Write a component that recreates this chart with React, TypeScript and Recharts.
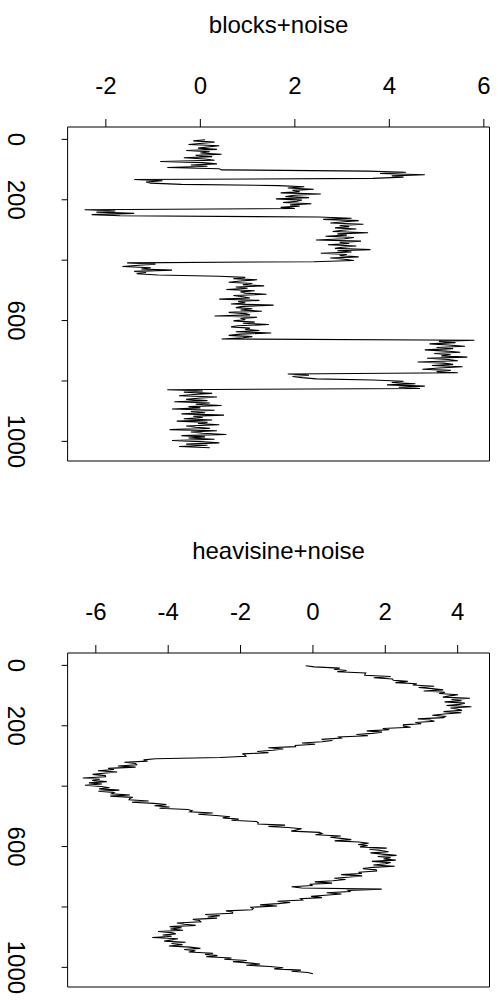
import { LineChart, Line, XAxis, YAxis, ReferenceArea } from 'recharts';

// index ticks shared by both panels (series index 1..1024, every 4th point kept)
const indexTicks = [0, 200, 400, 600, 800, 1000];
// R drops the labels that would overlap: only these are written
const indexLabels = [0, 200, 600, 1000];
const blocksTicks = [-2, 0, 2, 4, 6];
const heavisineTicks = [-6, -4, -2, 0, 2, 4];

// blocks+noise (one value per 4 samples)
const blocksNoise = [
  0.1, -0.15, 0.3, 0.05, -0.25, 0.4, 0.15, -0.05, 0.35, -0.3, 0.2, 0.0, 0.45, -0.1, 0.25, -0.35, 0.1, 0.3, -0.85, 0.05,
  0.35, -0.2, 0.15, -0.7, 0.4, 0.45,
  3.55, 4.35, 3.8, 4.75, 4.05, 4.3, 3.65,
  -1.4, -0.8, -1.15, -1.05, -0.4,
  1.65, 2.2, 1.85, 2.4, 1.95, 2.1, 1.7, 2.55, 2.0, 1.8, 2.3, 1.6, 2.15, 2.05, 1.75, 2.35, 1.9, 2.1, 1.7, 2.0,
  -2.45, -1.8, -2.2, -1.4, -2.3, -1.7,
  2.5, 3.2, 2.6, 3.35, 3.05, 2.75, 3.45, 2.95, 3.15, 2.85, 3.3, 3.0, 2.8, 3.55, 2.9, 3.1, 2.65, 3.25, 3.05, 2.45,
  3.4, 2.95, 3.15, 2.7, 3.3, 3.0, 2.85, 3.6, 2.9, 3.2, 2.55, 3.1, 2.95, 3.35, 2.75, 3.05, 3.25, 2.4,
  -1.55, -0.95, -1.3, -1.65, -1.05, -1.25, -0.6, -1.4, -1.15, -1.35, -0.9,
  0.4, 0.95, 0.7, 1.2, 0.85, 0.6, 1.1, 0.9, 1.35, 0.75, 1.0, 0.55, 1.15, 0.85, 0.95, 1.4, 0.7, 0.9, 1.05, 0.4,
  1.25, 0.8, 0.95, 0.65, 1.55, 0.9, 0.75, 1.1, 0.85, 1.3, 0.6, 0.95, 1.05, 0.3, 1.2, 0.85, 0.95, 0.7, 1.15, 0.9,
  1.45, 0.8, 0.65, 1.05, 0.95, 1.25, 0.75, 1.5, 0.85, 0.6, 1.1, 0.9, 0.45,
  5.8, 5.05, 5.4, 4.85, 5.25, 5.6, 5.0, 5.35, 4.75, 5.2, 5.5, 4.95, 5.3, 5.1, 5.65, 4.8, 5.25, 5.45, 4.6, 5.15,
  5.35, 4.9, 5.55, 5.05, 4.7, 5.3, 5.0, 5.45,
  1.85, 2.3, 1.95, 2.15, 2.45,
  3.65, 4.3, 4.05, 4.55, 3.95, 4.75, 4.2, 4.65,
  -0.7, 0.05, -0.35, 0.25, -0.15, -0.45, 0.35, -0.05, -0.3, 0.15, -0.55, 0.2, -0.1, 0.45, -0.25, 0.0, -0.6, 0.3, -0.2, 0.1,
  -0.4, 0.5, -0.15, 0.05, -0.35, 0.25, -0.5, 0.15, -0.05, 0.4, -0.3, -0.1, 0.2, -0.65, 0.35, -0.2, 0.05, 0.55, -0.4, 0.1,
  -0.25, 0.3, -0.6, 0.0, 0.4, -0.3, 0.15, -0.45, 0.2,
];

// heavisine+noise (one value per 4 samples)
const heavisineNoise = [
  -0.2, 0.04, 0.74, 0.58, 0.93, 0.67, 1.46, 1.44, 1.43, 2.15, 1.68, 2.2, 2.22, 2.62, 2.28, 2.87,
  2.76, 3.35, 2.92, 3.29, 3.6, 3.06, 3.65, 3.49, 4.01, 3.78, 3.59, 4.34, 3.83, 4.11, 3.64, 4.2,
  4.05, 3.69, 4.38, 3.8, 4.01, 4.12, 3.61, 4.1, 3.63, 3.3, 3.66, 3.61, 2.9, 3.23, 3.36, 2.83,
  2.99, 2.5, 2.5, 2.7, 1.93, 2.11, 1.49, 1.91, 1.64, 1.2, 1.52, 0.72, 0.78, 0.24, 0.54, 0.25,
  -0.3, 0.06, -0.49, -0.48, -1.23, -0.82, -1.11, -1.54, -1.23, -1.95, -1.88, -1.85, -2.57, -4.35, -4.68, -4.57,
  -5.21, -4.9, -4.87, -5.39, -4.9, -5.66, -5.5, -5.94, -5.41, -5.78, -6.09, -5.74, -5.73, -6.36, -5.89, -6.1,
  -5.7, -6.19, -5.83, -6.3, -5.86, -5.62, -5.91, -5.35, -5.93, -5.5, -5.56, -5.06, -5.6, -4.98, -5.06, -5.08,
  -4.54, -5.0, -4.4, -4.05, -4.38, -3.96, -4.24, -3.46, -3.34, -3.4, -2.77, -3.17, -2.68, -2.29, -2.49, -2.05,
  -2.25, -1.56, -1.51, -1.52, -0.77, -1.23, -0.69, -0.31, -0.47, -0.6, 0.18, 0.25, 0.07, 0.77, 0.48, 0.77,
  1.06, 0.6, 1.27, 1.54, 1.25, 1.51, 1.3, 2.04, 1.56, 1.88, 2.09, 1.59, 1.93, 2.31, 1.79, 2.15,
  1.95, 2.29, 1.63, 2.15, 2.01, 1.67, 2.26, 1.65, 1.38, 1.75, 1.76, 1.26, 1.35, 0.78, 1.36, 1.03,
  0.59, 0.9, 0.55, 0.05, 0.53, -0.09, -0.01, -0.59, -0.31, 1.9, 0.97, 1.02, 0.38, 0.79, 0.34, -0.05,
  0.25, -0.34, -0.29, -0.98, -0.63, -0.97, -1.46, -0.99, -1.73, -1.65, -1.68, -2.4, -2.22, -2.22, -2.98, -2.57,
  -2.91, -2.65, -3.32, -3.14, -3.1, -3.76, -3.55, -3.24, -3.96, -3.63, -3.94, -3.59, -4.28, -3.91, -3.79, -4.15,
  -3.9, -4.44, -3.73, -3.9, -4.11, -3.52, -3.91, -3.6, -3.98, -3.4, -3.11, -3.56, -3.25, -3.43, -2.76, -2.98,
  -2.64, -2.95, -2.25, -2.45, -1.83, -2.21, -1.79, -1.46, -1.84, -1.2, -0.82, -1.07, -0.33, -0.59, -0.14, 0.0,
];

const sampleIndex = blocksNoise.map((_, k) => 1 + 4 * k);

const W = 498;
const H = 500;
const BOX_LEFT = 67.6;
const BOX_RIGHT = 489.5;
const BOX_TOP = 127;
const BOX_BOTTOM = 461;
const INDEX_DOMAIN: [number, number] = [-41, 1065];
const FONT = '"Liberation Sans", Arial, Helvetica, sans-serif';
const FS = 24;

const TopTick = (props: any) => {
  const { x, payload } = props;
  return (
    <g>
      <line x1={x} x2={x} y1={BOX_TOP - 8} y2={BOX_TOP} stroke="#000" strokeWidth={1} />
      <text x={x} y={BOX_TOP - 33.5} textAnchor="middle" fontSize={FS} fontFamily={FONT} fill="#000">
        {payload.value}
      </text>
    </g>
  );
};

const LeftTick = (props: any) => {
  const { y, payload } = props;
  const lx = 16.5;
  return (
    <g>
      <line x1={BOX_LEFT - 6} x2={BOX_LEFT} y1={y} y2={y} stroke="#000" strokeWidth={1} />
      {indexLabels.includes(payload.value) && (
        <text
          x={lx}
          y={y}
          transform={`rotate(90, ${lx}, ${y})`}
          textAnchor="middle"
          dominantBaseline="central"
          fontSize={FS}
          fontFamily={FONT}
          fill="#000"
        >
          {payload.value}
        </text>
      )}
    </g>
  );
};

function Panel({ title, values, ticks, domain, top }: {
  title: string;
  values: number[];
  ticks: number[];
  domain: [number, number];
  top: number;
}) {
  const data = values.map((v, k) => ({ i: sampleIndex[k], v }));
  return (
    <div style={{ position: 'absolute', left: 0, top, width: W, height: H }}>
      <svg width={W} height={H} style={{ position: 'absolute', left: 0, top: 0 }}>
        <text x={(BOX_LEFT + BOX_RIGHT) / 2} y={33} textAnchor="middle" fontSize={FS} fontFamily={FONT} fill="#000">
          {title}
        </text>
      </svg>
      <LineChart
        width={W}
        height={H}
        data={data}
        layout="vertical"
        margin={{ top: 0, right: W - BOX_RIGHT, bottom: H - BOX_BOTTOM, left: 0 }}
      >
        <XAxis
          type="number"
          dataKey="v"
          orientation="top"
          height={BOX_TOP}
          domain={domain}
          allowDataOverflow
          ticks={ticks}
          interval={0}
          axisLine={false}
          tickLine={false}
          tick={<TopTick />}
        />
        <YAxis
          type="number"
          dataKey="i"
          orientation="left"
          width={BOX_LEFT}
          domain={INDEX_DOMAIN}
          allowDataOverflow
          ticks={indexTicks}
          interval={0}
          axisLine={false}
          tickLine={false}
          tick={<LeftTick />}
        />
        <ReferenceArea
          x1={domain[0]}
          x2={domain[1]}
          y1={INDEX_DOMAIN[0]}
          y2={INDEX_DOMAIN[1]}
          fill="none"
          fillOpacity={0}
          stroke="#000"
          strokeWidth={1}
        />
        <Line
          type="linear"
          dataKey="v"
          stroke="#000"
          strokeWidth={1.1}
          dot={false}
          activeDot={false}
          isAnimationActive={false}
        />
      </LineChart>
    </div>
  );
}

export default function App() {
  return (
    <div style={{ position: 'absolute', left: 0, top: 0, width: W, height: 1001, background: '#fff' }}>
      <Panel title="blocks+noise" values={blocksNoise} ticks={blocksTicks} domain={[-2.81, 6.12]} top={0} />
      <Panel title="heavisine+noise" values={heavisineNoise} ticks={heavisineTicks} domain={[-6.78, 4.88]} top={526} />
    </div>
  );
}
